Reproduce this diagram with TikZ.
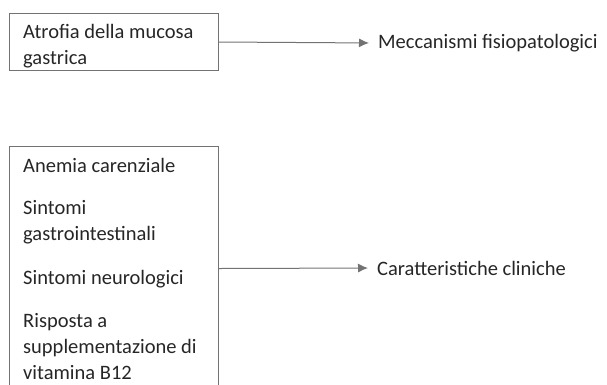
\documentclass[tikz,border=0pt]{standalone}
\usepackage{fontspec}
\setmainfont{Carlito}
\usepackage{tikz}
\usetikzlibrary{arrows.meta}

\begin{document}
\begin{tikzpicture}[x=1pt, y=-1pt,
  box/.style={draw=black!55, line width=1pt, minimum width=209pt, anchor=north west, inner sep=0pt},
  txt/.style={anchor=west, inner sep=3pt, text=black!85, align=left, font=\fontsize{20.5}{26}\selectfont},
  link/.style={draw=black!55, line width=1pt, shorten >=6pt, -{Latex[length=10pt, width=9pt]}}]
\useasboundingbox (0,0) rectangle (607,384);
\clip (0,0) rectangle (607,384);

% Mechanisms
\node[box, minimum height=57pt] (atrofia) at (9,13) {};
\node[txt] (atrofiatxt) at (20,46) {Atrofia della mucosa\\gastrica};
\node[txt] (meccanismi) at (375,43) {Meccanismi fisiopatologici};

% Clinical features
\node[box, minimum height=244pt] (quadro) at (9,146) {};
\node[txt] (anemia) at (20,165) {Anemia carenziale};
\node[txt] (gastro) at (20,222) {Sintomi\\gastrointestinali};
\node[txt] (neuro) at (20,279) {Sintomi neurologici};
\node[txt] (risposta) at (20,347) {Risposta a\\supplementazione di\\vitamina B12};
\node[txt] (cliniche) at (374,268) {Caratteristiche cliniche};

% Arrows
\draw[link] (atrofia.east) -- (meccanismi.west);
\draw[link] (quadro.east) -- (cliniche.west);
\end{tikzpicture}
\end{document}
